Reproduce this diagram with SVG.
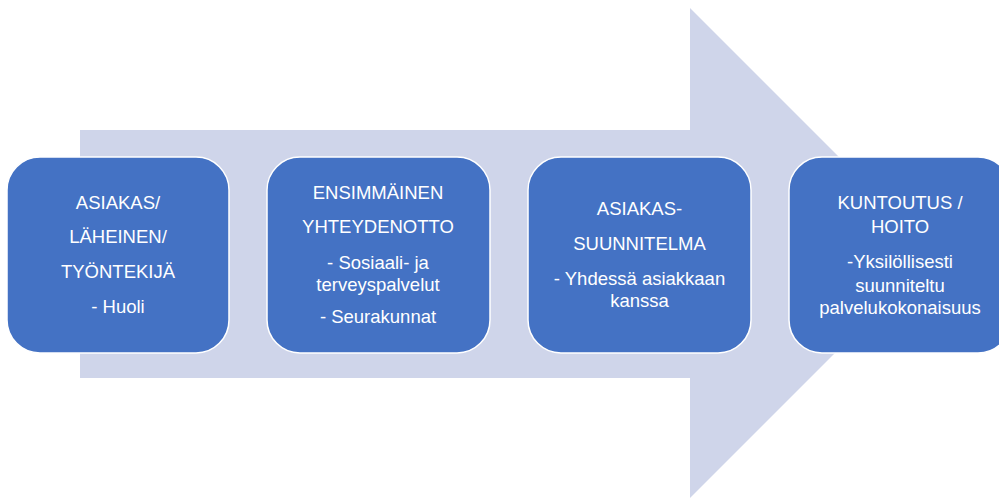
<svg xmlns="http://www.w3.org/2000/svg" width="999" height="500" viewBox="0 0 999 500">
<style>
.box{fill:#4472C4;stroke:#ffffff;stroke-width:1.5}
.t{font-family:"Liberation Sans",Arial,sans-serif;font-size:18.5px;fill:#ffffff;text-anchor:middle}
</style>
<rect width="999" height="500" fill="#ffffff"/>
<g id="connectors">
<polygon points="80,130 690,130 690,8 935,253 690,498 690,378 80,378" fill="#CFD5EA"/>
</g>
<g id="node1">
<rect class="box" x="7" y="157" width="222" height="196" rx="33"/>
<text class="t" x="118" y="209">ASIAKAS/</text>
<text class="t" x="118" y="243">LÄHEINEN/</text>
<text class="t" x="118" y="278">TYÖNTEKIJÄ</text>
<text class="t" x="118" y="313">- Huoli</text>
</g>
<g id="node2">
<rect class="box" x="267" y="157" width="223" height="196" rx="33"/>
<text class="t" x="378" y="199">ENSIMMÄINEN</text>
<text class="t" x="378" y="233">YHTEYDENOTTO</text>
<text class="t" x="378" y="269">- Sosiaali- ja</text>
<text class="t" x="378" y="291">terveyspalvelut</text>
<text class="t" x="378" y="323">- Seurakunnat</text>
</g>
<g id="node3">
<rect class="box" x="528" y="157" width="223" height="196" rx="33"/>
<text class="t" x="639.5" y="215">ASIAKAS-</text>
<text class="t" x="639.5" y="250">SUUNNITELMA</text>
<text class="t" x="639.5" y="285">- Yhdessä asiakkaan</text>
<text class="t" x="639.5" y="307">kanssa</text>
</g>
<g id="node4">
<rect class="box" x="789" y="157" width="222" height="196" rx="33"/>
<text class="t" x="900" y="209">KUNTOUTUS /</text>
<text class="t" x="900" y="233">HOITO</text>
<text class="t" x="900" y="268">-Yksilöllisesti</text>
<text class="t" x="900" y="292">suunniteltu</text>
<text class="t" x="900" y="314">palvelukokonaisuus</text>
</g>
</svg>
